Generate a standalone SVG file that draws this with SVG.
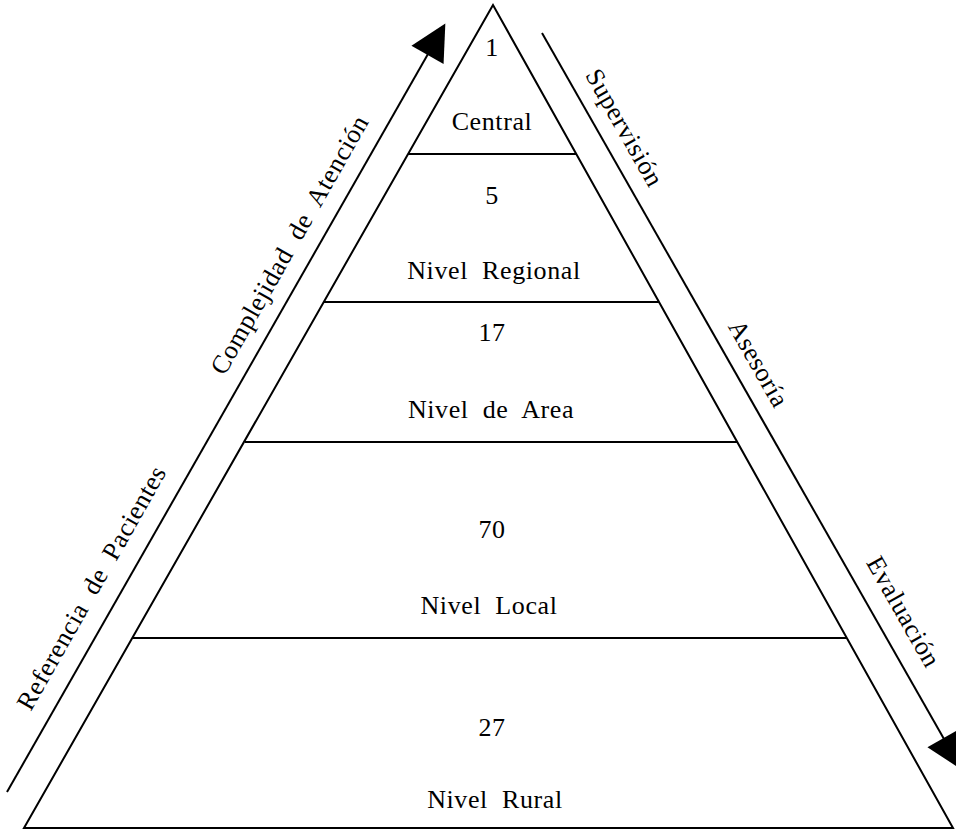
<svg xmlns="http://www.w3.org/2000/svg" width="956" height="834" viewBox="0 0 956 834">
  <style>
    .edge { stroke: #000; stroke-width: 2; fill: none; }
    .lbl { font-family: "Liberation Serif", "DejaVu Serif", serif; font-size: 26px; letter-spacing: 0.6px; word-spacing: 7px; fill: #000; text-anchor: middle; }
  </style>
  <defs>
    <!-- solid triangular head, base centred on the line end -->
    <marker id="head" markerWidth="40" markerHeight="40" refX="0" refY="0" orient="auto" markerUnits="userSpaceOnUse" overflow="visible">
      <path d="M-1,-18.5 L35,0 L-1,18.5 Z" fill="#000"/>
    </marker>
  </defs>
  <rect width="956" height="834" fill="#fff"/>

  <!-- pyramid outline -->
  <g id="pyramid">
    <path class="edge" d="M493,5 L24,828 L953,828 Z" stroke-linejoin="miter"/>
  </g>

  <!-- tiers, top to bottom -->
  <g id="tier-central">
    <line class="edge" x1="408" y1="154" x2="576" y2="154"/>
    <text class="lbl" x="492" y="56">1</text>
    <text class="lbl" x="492" y="130">Central</text>
  </g>
  <g id="tier-regional">
    <line class="edge" x1="324" y1="302" x2="659" y2="302"/>
    <text class="lbl" x="492" y="204">5</text>
    <text class="lbl" x="494" y="279">Nivel Regional</text>
  </g>
  <g id="tier-area">
    <line class="edge" x1="245" y1="442" x2="737" y2="442"/>
    <text class="lbl" x="492" y="341">17</text>
    <text class="lbl" x="491" y="418">Nivel de Area</text>
  </g>
  <g id="tier-local">
    <line class="edge" x1="133" y1="638" x2="847" y2="638"/>
    <text class="lbl" x="492" y="538">70</text>
    <text class="lbl" x="489" y="614">Nivel Local</text>
  </g>
  <g id="tier-rural">
    <text class="lbl" x="492" y="736">27</text>
    <text class="lbl" x="495" y="808">Nivel Rural</text>
  </g>

  <!-- flow arrows along the sides -->
  <g id="connectors">
    <line class="edge" x1="7" y1="792" x2="428" y2="54" marker-end="url(#head)"/>
    <line class="edge" x1="542" y1="33" x2="944" y2="739" marker-end="url(#head)"/>
  </g>

  <!-- side labels -->
  <g id="labels-left">
    <text class="lbl" transform="translate(290,245) rotate(-60.4)" y="8">Complejidad de Atención</text>
    <text class="lbl" transform="translate(92,588) rotate(-60.4)" y="8">Referencia de Pacientes</text>
  </g>
  <g id="labels-right">
    <text class="lbl" transform="translate(624,128) rotate(60.4)" y="8">Supervisión</text>
    <text class="lbl" transform="translate(758,364) rotate(60.4)" y="8">Asesoría</text>
    <text class="lbl" transform="translate(903,612) rotate(60.4)" y="8">Evaluación</text>
  </g>
</svg>
